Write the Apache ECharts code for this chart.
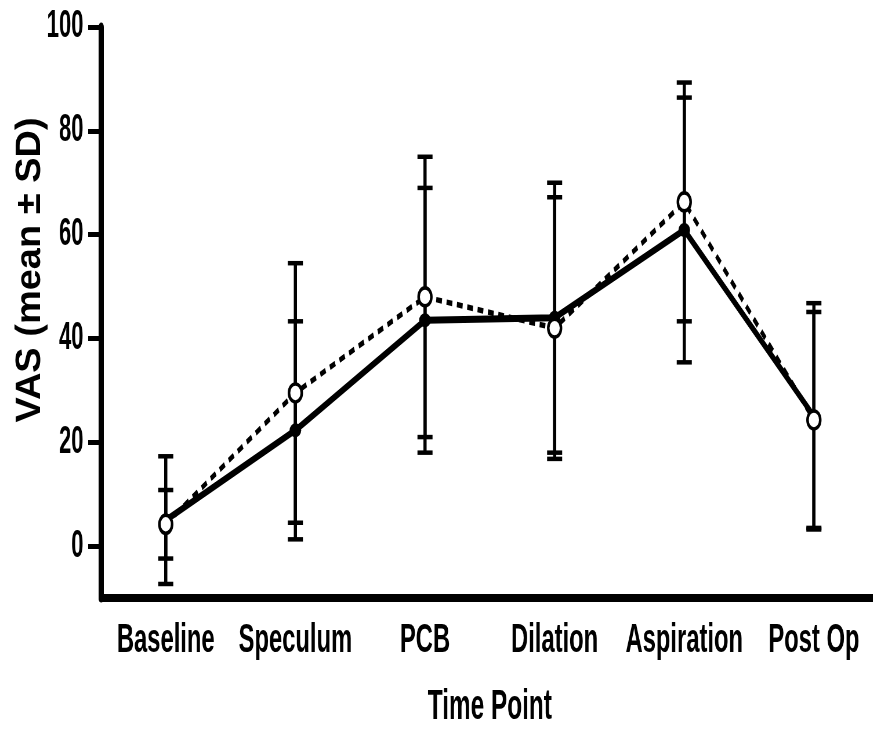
<!DOCTYPE html>
<html>
<head>
<meta charset="utf-8">
<script src="https://cdn.jsdelivr.net/npm/echarts@6/dist/echarts.min.js"></script>
<style>
  html, body { margin: 0; padding: 0; background: #fff; overflow: hidden; }
  /* the reference figure is squeezed sideways, so draw wide and squeeze */
  #chart { width: 1505px; height: 731px; transform: scaleX(0.58); transform-origin: 0 0; }
</style>
</head>
<body>
<div id="chart"></div>
<script>
// time points
const categories = ['Baseline', 'Speculum', 'PCB', 'Dilation', 'Aspiration', 'Post Op'];
// solid line, filled circles
const solidMean = [5.0, 22.3, 43.5, 44.0, 60.9, 25.0];
const solidSD = [12.3, 21.0, 25.5, 26.0, 25.5, 21.8];
// dashed line, open circles
const dashedMean = [4.2, 29.5, 48.0, 42.0, 66.3, 24.3];
const dashedSD = [6.6, 25.0, 27.0, 25.2, 23.0, 20.8];
const yTicks = [0, 20, 40, 60, 80, 100];

const FONT = '"Liberation Sans", Arial, sans-serif';

let chart = echarts.init(document.getElementById('chart'));

// 误差线数据 [index, low, high]
function errData(mean, sd) {
  return mean.map((m, i) => [i, m - sd[i], m + sd[i]]);
}

function renderErr(params, api) {
  const i = api.value(0);
  const lo = api.coord([i, api.value(1)]);
  const hi = api.coord([i, api.value(2)]);
  const half = 13;
  const style = {stroke: '#000', lineWidth: 5.5};
  const cap = {stroke: '#000', lineWidth: 4.5};
  return {
    type: 'group',
    children: [
      {type: 'line', shape: {x1: lo[0], y1: lo[1], x2: hi[0], y2: hi[1]}, style: style},
      {type: 'line', shape: {x1: lo[0] - half, y1: lo[1], x2: lo[0] + half, y2: lo[1]}, style: cap},
      {type: 'line', shape: {x1: hi[0] - half, y1: hi[1], x2: hi[0] + half, y2: hi[1]}, style: cap}
    ]
  };
}

chart.setOption({
  animation: false,
  backgroundColor: '#fff',
  grid: {left: 174, top: 27, width: 1341, bottom: 133, outerBoundsMode: 'none'},
  graphic: [{
    type: 'text',
    x: 52,
    y: 270,
    rotation: Math.PI / 2,
    scaleY: 1.6,
    style: {
      text: 'VAS (mean ± SD)',
      font: 'bold 38px "Liberation Sans", Arial, sans-serif',
      fill: '#000',
      textAlign: 'center',
      textVerticalAlign: 'middle'
    }
  }],
  xAxis: {
    type: 'category',
    data: categories,
    boundaryGap: true,
    name: 'Time Point',
    nameLocation: 'middle',
    nameGap: 88,
    nameTextStyle: {fontFamily: FONT, fontWeight: 'bold', fontSize: 42, color: '#000'},
    axisLine: {onZero: false, lineStyle: {color: '#000', width: 8}},
    axisTick: {alignWithLabel: true, length: 16, lineStyle: {color: '#000', width: 5}},
    axisLabel: {fontFamily: FONT, fontWeight: 'bold', fontSize: 41, color: '#000', margin: 22, interval: 0},
    splitLine: {show: false}
  },
  yAxis: {
    type: 'value',
    min: -10,
    max: 100,
    axisLine: {show: true, lineStyle: {color: '#000', width: 9}},
    axisTick: {show: true, length: 22, customValues: yTicks, lineStyle: {color: '#000', width: 5}},
    axisLabel: {customValues: yTicks, fontFamily: FONT, fontWeight: 'bold', fontSize: 38, color: '#000', margin: 30},
    splitLine: {show: false}
  },
  series: [
    {
      type: 'custom',
      renderItem: renderErr,
      data: errData(solidMean, solidSD),
      encode: {x: 0, y: [1, 2]},
      z: 1
    },
    {
      type: 'custom',
      renderItem: renderErr,
      data: errData(dashedMean, dashedSD),
      encode: {x: 0, y: [1, 2]},
      z: 1
    },
    {
      type: 'line',
      data: solidMean,
      symbol: 'circle',
      symbolSize: [20, 14],
      itemStyle: {color: '#000'},
      lineStyle: {color: '#000', width: 7},
      z: 3
    },
    {
      type: 'line',
      data: dashedMean,
      symbol: 'circle',
      symbolSize: [22, 18],
      itemStyle: {color: '#fff', borderColor: '#000', borderWidth: 4},
      lineStyle: {color: '#000', width: 5.5, type: [10, 8]},
      z: 4
    }
  ]
});
</script>
</body>
</html>
